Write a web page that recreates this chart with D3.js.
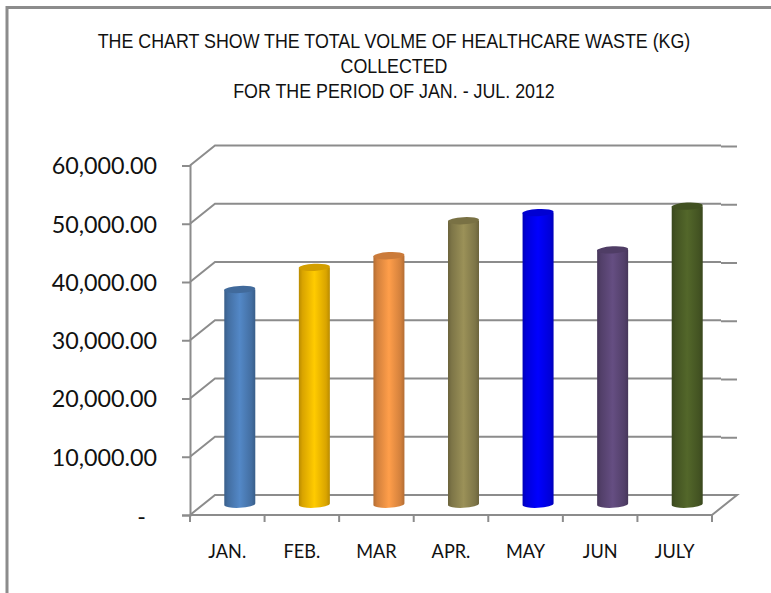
<!DOCTYPE html>
<html>
<head>
<meta charset="utf-8">
<script src="https://cdn.jsdelivr.net/npm/d3@7/dist/d3.min.js"></script>
<style>
  html, body { margin: 0; padding: 0; background: #fff; overflow: hidden; }
</style>
</head>
<body>
<div id="chart"></div>
<script>
// Values
const months = ['JAN.', 'FEB.', 'MAR', 'APR.', 'MAY', 'JUN', 'JULY'];
const waste = [37000, 40800, 42800, 48800, 50200, 43800, 51300];
const barColors = ['#4f81bd', '#ffc000', '#f79646', '#938953', '#0000ff', '#604a7b', '#4f6228'];
const yTicks = [0, 10000, 20000, 30000, 40000, 50000, 60000];
const titleLines = [
    'THE CHART SHOW THE TOTAL VOLME OF HEALTHCARE WASTE (KG)',
    'COLLECTED',
    'FOR THE PERIOD OF JAN. - JUL. 2012'
];

const svgWidth = 771;
const svgHeight = 593;
const gridColor = '#8c8c8c';
const depth = { x: 25, y: -20 }; // shift of the back wall from the front plane

const svg = d3.select('#chart')
    .append('svg')
    .attr('width', svgWidth)
    .attr('height', svgHeight)
    .style('display', 'block');

// Outer frame, cut off by the window on the right and at the bottom
svg.append('rect')
    .attr('x', 7)
    .attr('y', 7.5)
    .attr('width', svgWidth + 20)
    .attr('height', svgHeight + 20)
    .attr('fill', '#fff')
    .attr('stroke', gridColor)
    .attr('stroke-width', 3);

// Title, squeezed a little to match the narrow look of the original
svg.append('g').selectAll('text')
    .data(titleLines)
    .enter()
    .append('text')
    .attr('transform', (d, i) => `translate(394,${47.5 + i * 25}) scale(0.915,1)`)
    .attr('text-anchor', 'middle')
    .style('font-family', '"Liberation Sans", sans-serif')
    .style('font-size', '19.5px')
    .style('fill', '#111')
    .text(d => d);

// Scales
const xScale = d3.scaleBand()
    .domain(months)
    .range([190, 712]);

const yScale = d3.scaleLinear()
    .domain([0, 60000])
    .range([515, 165.5]);

// Back wall gridlines with the slanted part on the side wall
const grid = svg.append('g')
    .attr('fill', 'none')
    .attr('stroke', gridColor)
    .attr('stroke-width', 2);

grid.selectAll('.wall')
    .data(yTicks)
    .enter()
    .append('path')
    .attr('class', 'wall')
    .attr('d', d => {
        const y = yScale(d);
        return `M190,${y}L${190 + depth.x},${y + depth.y}H${712 + depth.x - 16}`;
    });

// Right hand stubs sit about a pixel lower than the gridlines (not on the floor)
grid.selectAll('.stub')
    .data(yTicks.slice(1))
    .enter()
    .append('path')
    .attr('class', 'stub')
    .attr('d', d => `M${712 + depth.x - 16},${yScale(d) + depth.y + 1}H${712 + depth.x}`);

// Floor edge on the right
grid.append('path')
    .attr('d', `M${712 + depth.x - 16},${515 + depth.y}H${712 + depth.x}L712,515`);

// Y axis
const yAxis = svg.append('g')
    .attr('transform', 'translate(190,0)')
    .call(d3.axisLeft(yScale)
        .tickValues(yTicks)
        .tickSize(8)
        .tickPadding(25)
        .tickFormat(d => d === 0 ? '-' : d3.format(',.2f')(d)));

yAxis.selectAll('line, path')
    .attr('stroke', gridColor)
    .attr('stroke-width', 2);
yAxis.selectAll('text')
    .attr('dy', '0.36em')
    .style('font-family', 'Lato, sans-serif')
    .style('font-size', '23.3px')
    .style('fill', '#111');

// The zero label keeps the accounting format's offset
yAxis.selectAll('.tick')
    .filter(d => d === 0)
    .select('text')
    .attr('x', -44)
    .attr('dy', '0.42em');

// X axis, ticks sit on the band edges
const xAxis = svg.append('g')
    .attr('transform', 'translate(0,515)');

xAxis.append('line')
    .attr('x1', 190)
    .attr('x2', 712)
    .attr('stroke', gridColor)
    .attr('stroke-width', 2);

xAxis.selectAll('.edge')
    .data(months.concat('end'))
    .enter()
    .append('line')
    .attr('class', 'edge')
    .attr('x1', d => d === 'end' ? xScale.range()[1] : xScale(d))
    .attr('x2', d => d === 'end' ? xScale.range()[1] : xScale(d))
    .attr('y2', 7)
    .attr('stroke', gridColor)
    .attr('stroke-width', 2);

xAxis.selectAll('text')
    .data(months)
    .enter()
    .append('text')
    .attr('transform', d => `translate(${xScale(d) + xScale.bandwidth() / 2},43) scale(0.93,1)`)
    .attr('text-anchor', 'middle')
    .style('font-family', 'Lato, sans-serif')
    .style('font-size', '19.5px')
    .style('fill', '#111')
    .text(d => d);

// Cylinders
const defs = svg.append('defs');
const barWidth = 31;
const ry = 3.6;
const tilt = -3; // the ellipses lean slightly in the original

months.forEach((m, i) => {
    const c = d3.color(barColors[i]);
    const g = defs.append('linearGradient').attr('id', `bar${i}`);
    g.append('stop').attr('offset', '0%').attr('stop-color', c.darker(0.9));
    g.append('stop').attr('offset', '12%').attr('stop-color', c.darker(0.45));
    g.append('stop').attr('offset', '50%').attr('stop-color', c.brighter(0.15));
    g.append('stop').attr('offset', '88%').attr('stop-color', c.darker(0.45));
    g.append('stop').attr('offset', '100%').attr('stop-color', c.darker(0.9));
});

const bars = svg.append('g').selectAll('g')
    .data(waste)
    .enter()
    .append('g');

const barX = i => xScale(months[i]) + xScale.bandwidth() / 2 + depth.x / 2 - barWidth / 2;
const floorY = 515 + depth.y / 2;
const valueH = d => yScale(0) - yScale(d);

bars.append('path')
    .attr('fill', (d, i) => `url(#bar${i})`)
    .attr('d', (d, i) => {
        const x = barX(i);
        const top = floorY - valueH(d);
        return `M${x},${top}V${floorY}A${barWidth / 2},${ry} ${tilt} 0 0 ${x + barWidth},${floorY - 1.5}V${top}Z`;
    });

bars.append('ellipse')
    .attr('transform', (d, i) => `translate(${barX(i) + barWidth / 2},${floorY - valueH(d)}) rotate(${tilt})`)
    .attr('rx', barWidth / 2)
    .attr('ry', ry)
    .attr('fill', (d, i) => d3.color(barColors[i]).darker(0.55));
</script>
</body>
</html>
